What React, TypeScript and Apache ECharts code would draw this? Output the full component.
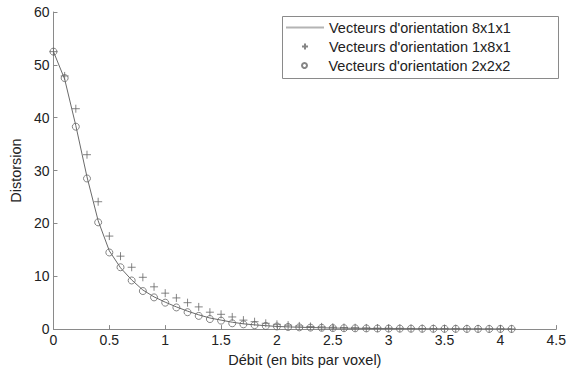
import React, { useEffect, useRef } from "react";
import * as echarts from "echarts";

const debit = [
  0, 0.1, 0.2, 0.3, 0.4, 0.5, 0.6, 0.7, 0.8, 0.9, 1.0, 1.1, 1.2, 1.3, 1.4, 1.5, 1.6, 1.7, 1.8, 1.9, 2.0,
  2.1, 2.2, 2.3, 2.4, 2.5, 2.6, 2.7, 2.8, 2.9, 3.0, 3.1, 3.2, 3.3, 3.4, 3.5, 3.6, 3.7, 3.8, 3.9, 4.0, 4.1,
];

const dist8x1x1 = [
  52.5, 47.3, 38.5, 28.8, 20.5, 14.8, 11.6, 9.3, 7.4, 6.1, 5.1, 4.2, 3.4, 2.7, 2.1, 1.7, 1.3, 1.0, 0.8, 0.65, 0.5,
  0.42, 0.35, 0.3, 0.25, 0.2, 0.17, 0.15, 0.13, 0.11, 0.1, 0.09, 0.08, 0.07, 0.06, 0.05, 0.05, 0.04, 0.04, 0.03, 0.03, 0.03,
];

const dist1x8x1 = [
  52.5, 47.9, 41.7, 33.0, 24.1, 17.6, 13.8, 11.7, 9.8, 8.0, 6.8, 5.9, 5.0, 4.2, 3.2, 2.8, 2.3, 1.7, 1.4, 1.1, 0.9,
  0.75, 0.6, 0.5, 0.42, 0.35, 0.3, 0.26, 0.22, 0.19, 0.17, 0.15, 0.13, 0.11, 0.1, 0.09, 0.08, 0.07, 0.06, 0.05, 0.05, 0.04,
];

const dist2x2x2 = [
  52.5, 47.5, 38.3, 28.5, 20.2, 14.5, 11.7, 9.2, 7.2, 6.0, 5.0, 4.1, 3.2, 2.5, 1.9, 1.6, 1.1, 0.9, 0.75, 0.6, 0.5,
  0.4, 0.33, 0.28, 0.24, 0.2, 0.17, 0.15, 0.13, 0.11, 0.1, 0.09, 0.08, 0.07, 0.06, 0.05, 0.05, 0.04, 0.04, 0.03, 0.03, 0.03,
];

const seriesNames = [
  "Vecteurs d'orientation 8x1x1",
  "Vecteurs d'orientation 1x8x1",
  "Vecteurs d'orientation 2x2x2",
];

const xTicks = { min: 0, max: 4.5, interval: 0.5 };
const yTicks = { min: 0, max: 60, interval: 10 };

const FONT = "Liberation Sans, Arial, Helvetica, sans-serif";
const AXIS_COLOR = "#8a8a8a";
const TEXT_COLOR = "#222";
const MARK_COLOR = "#666";

const pair = (xs: number[], ys: number[]) => xs.map((x, i) => [x, ys[i]]);

export default function App() {
  const ref = useRef<HTMLDivElement>(null);

  useEffect(() => {
    if (!ref.current) return;
    const chart = echarts.init(ref.current, null, { renderer: "svg" });

    const axisCommon = {
      type: "value" as const,
      axisLine: { show: true, lineStyle: { color: AXIS_COLOR, width: 1 } },
      axisTick: { show: true, inside: true, length: 4, lineStyle: { color: AXIS_COLOR } },
      splitLine: { show: false },
      axisLabel: { color: TEXT_COLOR, fontSize: 14, fontFamily: FONT, margin: 4 },
      nameTextStyle: { color: TEXT_COLOR, fontSize: 14.5, fontFamily: FONT },
      nameLocation: "middle" as const,
    };

    const legendCommon = {
      orient: "vertical" as const,
      itemWidth: 38,
      itemGap: 0,
      textStyle: { color: TEXT_COLOR, fontSize: 14.5, fontFamily: FONT },
      padding: 0,
      z: 10,
    };

    chart.setOption({
      animation: false,
      backgroundColor: "#fff",
      grid: { left: 47, top: 12, right: 12, bottom: 42, containLabel: false },
      xAxis: {
        ...axisCommon,
        ...xTicks,
        name: "Débit (en bits par voxel)",
        nameGap: 13,
      },
      yAxis: {
        ...axisCommon,
        ...yTicks,
        name: "Distorsion",
        nameGap: 25,
      },
      legend: [
        {
          ...legendCommon,
          left: 286,
          top: 20,
          itemHeight: 2,
          icon: "rect",
          itemStyle: { color: "#b4b4b4" },
          data: [seriesNames[0]],
        },
        { ...legendCommon, left: 301, top: 39, itemHeight: 6, data: [seriesNames[1]] },
        { ...legendCommon, left: 301, top: 58, itemHeight: 5, data: [seriesNames[2]] },
      ],
      graphic: [
        {
          type: "rect",
          left: 282,
          top: 16,
          shape: { width: 276, height: 62 },
          style: { fill: "#fff", stroke: AXIS_COLOR, lineWidth: 1 },
          z: 5,
        },
      ],
      series: [
        {
          name: seriesNames[0],
          type: "line",
          data: pair(debit, dist8x1x1),
          showSymbol: false,
          symbol: "none",
          lineStyle: { color: "#6a6a6a", width: 1 },
          itemStyle: { color: "#b4b4b4" },
          z: 2,
        },
        {
          name: seriesNames[1],
          type: "scatter",
          data: pair(debit, dist1x8x1),
          symbol: "path://M0,4L8,4M4,0L4,8",
          symbolSize: 8,
          itemStyle: { color: "rgba(0,0,0,0)", borderColor: MARK_COLOR, borderWidth: 1 },
          z: 3,
        },
        {
          name: seriesNames[2],
          type: "scatter",
          data: pair(debit, dist2x2x2),
          symbol: "circle",
          symbolSize: 7,
          itemStyle: { color: "rgba(255,255,255,0)", borderColor: MARK_COLOR, borderWidth: 1 },
          z: 3,
        },
      ],
    });

    return () => chart.dispose();
  }, []);

  return (
    <div
      ref={ref}
      style={{ position: "fixed", left: 0, top: 0, width: 569, height: 372, background: "#fff" }}
    />
  );
}
